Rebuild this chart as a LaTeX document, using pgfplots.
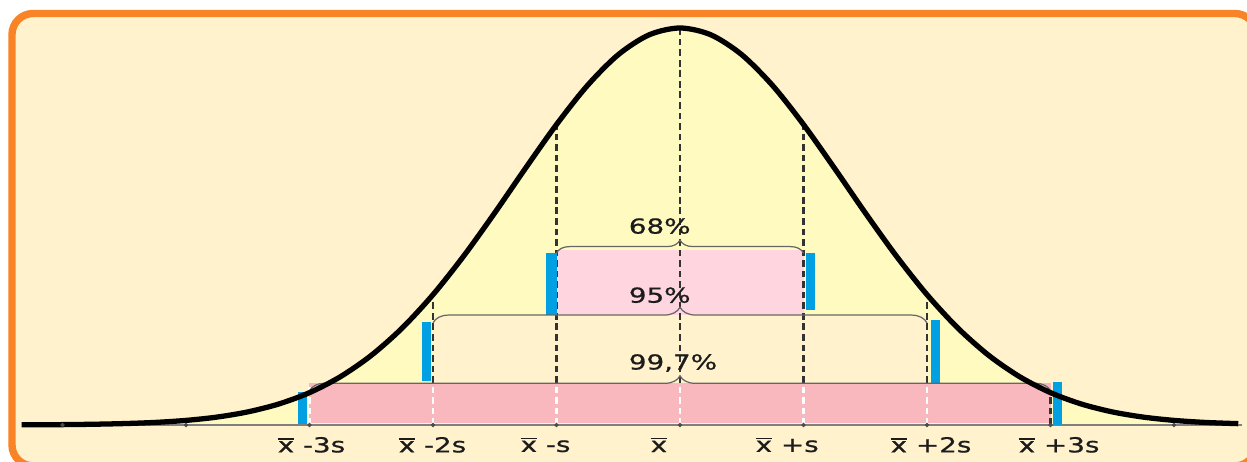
\documentclass[border=0pt]{standalone}
\usepackage{fontspec}
\usepackage{pgfplots}
\usepackage{pgfplotstable}
\pgfplotsset{compat=1.18}
\usetikzlibrary{decorations.pathreplacing}
\newfontfamily\lab[FakeStretch=1.35, FakeBold=0.8]{DejaVu Sans}

\definecolor{bgcream}{HTML}{FFF2CC}
\definecolor{underc}{HTML}{FFFBC0}
\definecolor{pinklt}{HTML}{FFD5E0}
\definecolor{pinkdk}{HTML}{F9B8BE}
\definecolor{barblue}{HTML}{00A0E3}
\definecolor{framec}{HTML}{F98327}
\definecolor{txt}{HTML}{1C1C1C}

% x in units of s, y = height relative to the peak
\pgfplotstableread{
u v
-5.33 0.0004
-5.00 0.00095
-4.75 0.0019
-4.50 0.0036
-4.25 0.0065
-4.00 0.0116
-3.75 0.0199
-3.50 0.0330
-3.25 0.0528
-3.00 0.0815
-2.75 0.1216
-2.50 0.1753
-2.25 0.2441
-2.00 0.3283
-1.75 0.4263
-1.50 0.5344
-1.25 0.6472
-1.00 0.7568
-0.75 0.8550
-0.50 0.9328
-0.25 0.9828
0.00 1.0000
0.25 0.9828
0.50 0.9328
0.75 0.8550
1.00 0.7568
1.25 0.6472
1.50 0.5344
1.75 0.4263
2.00 0.3283
2.25 0.2441
2.50 0.1753
2.75 0.1216
3.00 0.0815
3.25 0.0528
3.50 0.0330
3.75 0.0199
4.00 0.0116
4.25 0.0065
4.52 0.0034
}\curve

\newcommand\xb{\setbox0\hbox{x}\rlap{\rule[3.6pt]{\wd0}{0.5pt}}\box0}

\begin{document}
\begin{tikzpicture}[
    lab/.style={anchor=west, inner sep=0pt, text=txt,
        font=\lab\fontsize{5.86}{7}\selectfont},
    dsh/.style={line width=0.7pt, dash pattern=on 1.9pt off 1.1pt},
]
\begin{axis}[
    width=12.47cm, height=4.61cm, scale only axis,
    xmin=-5.506, xmax=4.591, ymin=-0.0907, ymax=1.0705,
    hide axis, clip=true,
]
% frame
\fill[white] (axis cs:-5.506,-0.0907) rectangle (axis cs:4.591,1.0705);
\draw[framec, fill=bgcream, line width=2.1pt, rounded corners=6pt]
    (axis cs:-5.409,-0.103) rectangle (axis cs:4.664,1.0365);

% area under the curve
\addplot[fill=underc, draw=none, smooth] table[x=u, y=v] {\curve} \closedcycle;

% bands
\addplot[fill=bgcream, draw=none] coordinates {(-2,0.106)(2,0.106)(2,0.275)(-2,0.275)} -- cycle;
\addplot[fill=pinklt, draw=none] coordinates {(-1,0.277)(1,0.277)(1,0.44)(-1,0.44)} -- cycle;
\addplot[fill=pinkdk, draw=none] coordinates {(-3,0.005)(3,0.005)(3,0.106)(-3,0.106)} -- cycle;

% dashed verticals
\addplot[dsh, black!80] coordinates {(-3,0)(-3,0.0815)};
\addplot[dsh, black!80] coordinates {(-2,0)(-2,0.3283)};
\addplot[dsh, black!80] coordinates {(-1,0)(-1,0.7568)};
\addplot[dsh, black!80] coordinates {(0,0)(0,1)};
\addplot[dsh, black!80] coordinates {(1,0)(1,0.7568)};
\addplot[dsh, black!80] coordinates {(2,0)(2,0.3283)};
\addplot[dsh, black!80] coordinates {(3,0)(3,0.0815)};
\addplot[dsh, white] coordinates {(-3,0)(-3,0.104)};
\addplot[dsh, white] coordinates {(-2,0)(-2,0.104)};
\addplot[dsh, white] coordinates {(-1,0)(-1,0.104)};
\addplot[dsh, white] coordinates {(0,0)(0,0.104)};
\addplot[dsh, white] coordinates {(1,0)(1,0.104)};
\addplot[dsh, white] coordinates {(2,0)(2,0.104)};

% baseline and small ticks
\addplot[gray, line width=0.55pt] coordinates {(-5.33,0)(4.55,0)};
\addplot[only marks, mark=*, mark size=0.4pt, black!70] coordinates {(-5,0)(-4,0)(-3,0)(-2,0)(-1,0)(0,0)(1,0)(2,0)(3,0)(4,0)};

% blue bars
\addplot[fill=barblue, draw=none] coordinates {(-1.085,0.277)(-1.0,0.277)(-1.0,0.433)(-1.085,0.433)} -- cycle;
\addplot[fill=barblue, draw=none] coordinates {(1.02,0.29)(1.093,0.29)(1.093,0.433)(1.02,0.433)} -- cycle;
\addplot[fill=barblue, draw=none] coordinates {(-2.089,0.111)(-2.016,0.111)(-2.016,0.259)(-2.089,0.259)} -- cycle;
\addplot[fill=barblue, draw=none] coordinates {(2.032,0.106)(2.105,0.106)(2.105,0.264)(2.032,0.264)} -- cycle;
\addplot[fill=barblue, draw=none] coordinates {(-3.093,0.003)(-3.02,0.003)(-3.02,0.083)(-3.093,0.083)} -- cycle;
\addplot[fill=barblue, draw=none] coordinates {(3.02,0.0)(3.093,0.0)(3.093,0.108)(3.02,0.108)} -- cycle;

% braces
\addplot[gray!80!black, line width=0.35pt, decorate, decoration={brace, amplitude=3.7pt}] coordinates {(-1,0.433)(1,0.433)};
\addplot[gray!80!black, line width=0.35pt, decorate, decoration={brace, amplitude=4.5pt}] coordinates {(-2,0.257)(2,0.257)};
\addplot[gray!80!black, line width=0.35pt, decorate, decoration={brace, amplitude=4.3pt}] coordinates {(-3,0.086)(3,0.086)};

% curve
\addplot[black, line width=1.5pt, smooth] table[x=u, y=v] {\curve};

% labels
\node[lab] at (axis cs:-0.42,0.501) {68\%};
\node[lab] at (axis cs:-0.42,0.327) {95\%};
\node[lab] at (axis cs:-0.42,0.156) {99,7\%};
\node[lab] at (axis cs:-3.263,-0.05) {\xb{} -3s};
\node[lab] at (axis cs:-2.283,-0.05) {\xb{} -2s};
\node[lab] at (axis cs:-1.296,-0.05) {\xb{} -s};
\node[lab] at (axis cs:-0.243,-0.05) {\xb};
\node[lab] at (axis cs:0.607,-0.05) {\xb{} +s};
\node[lab] at (axis cs:1.700,-0.05) {\xb{} +2s};
\node[lab] at (axis cs:2.737,-0.05) {\xb{} +3s};
\end{axis}
\pgfresetboundingbox
\useasboundingbox (current axis.south west) rectangle (current axis.north east);
\end{tikzpicture}
\end{document}
